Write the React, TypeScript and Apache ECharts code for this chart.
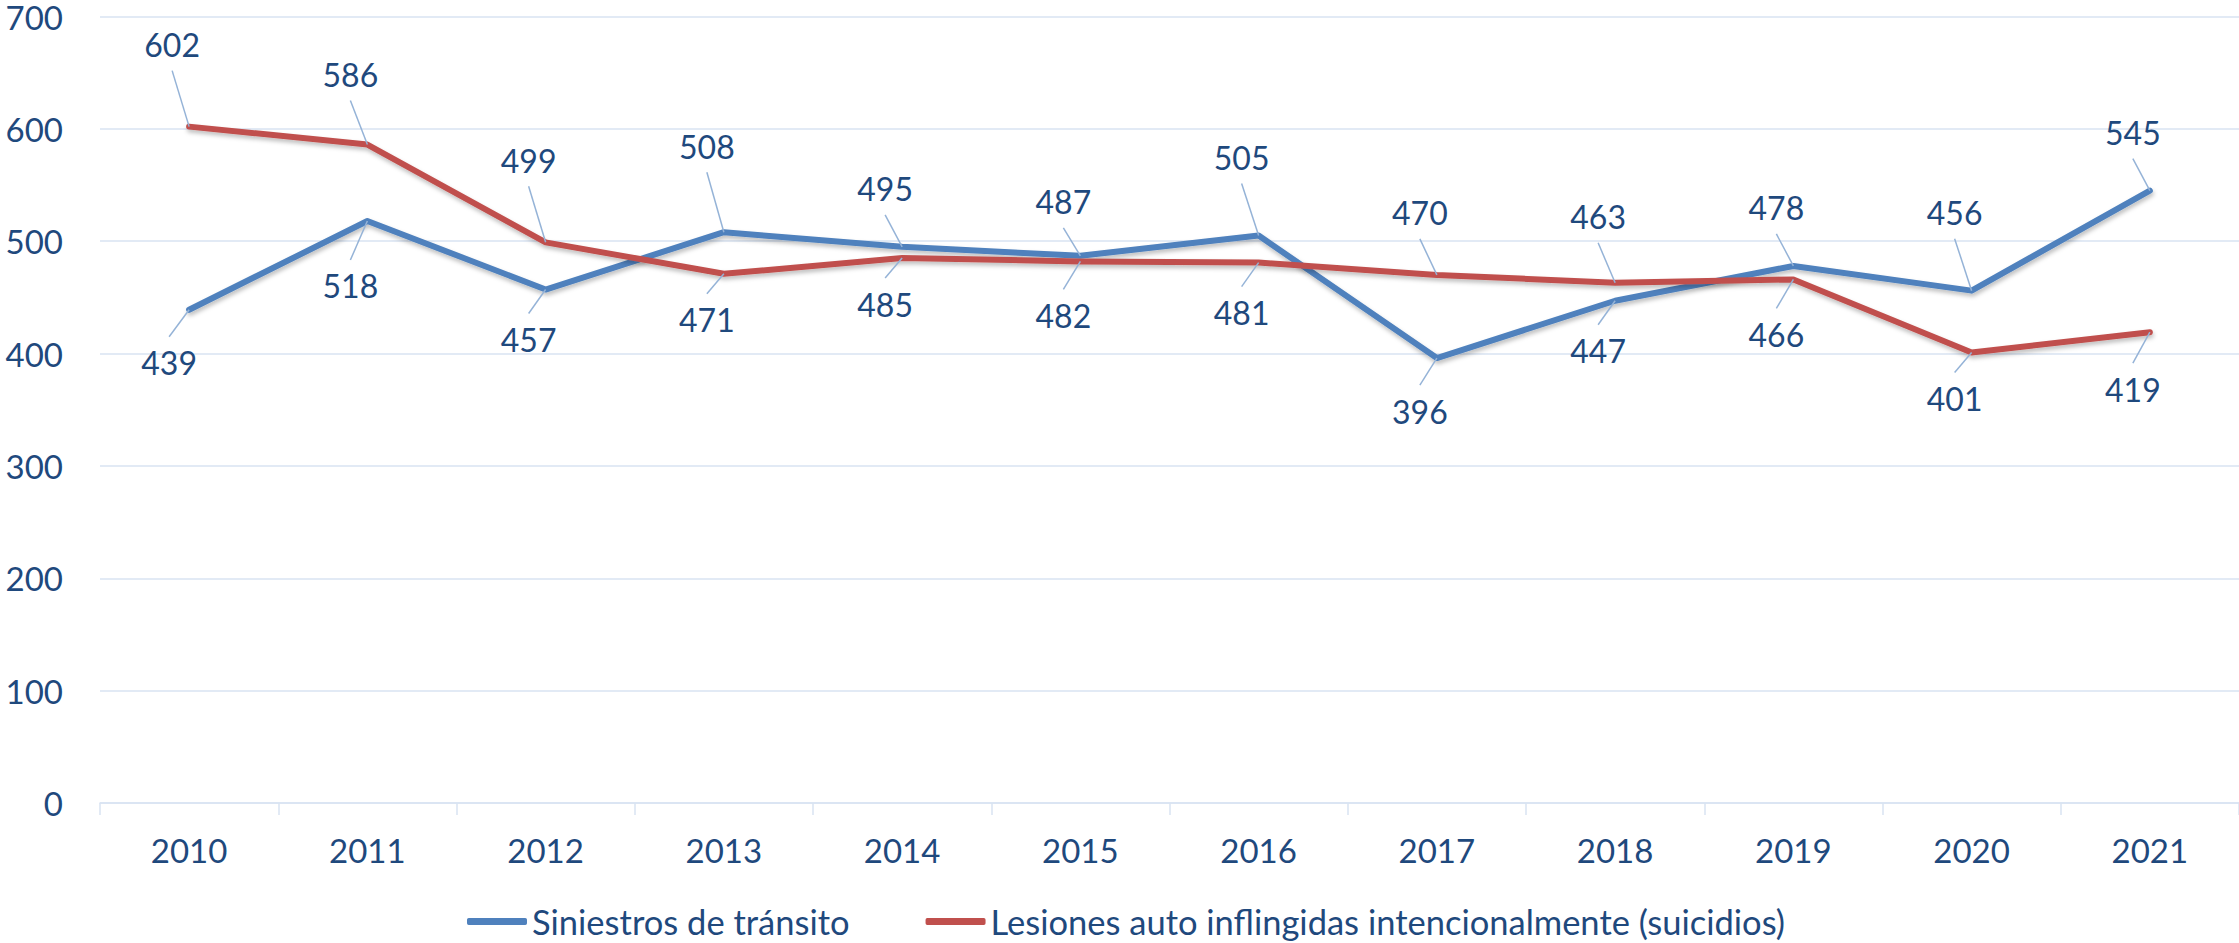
import React, { useEffect, useRef } from "react";
import * as echarts from "echarts";

const years = ["2010", "2011", "2012", "2013", "2014", "2015", "2016", "2017", "2018", "2019", "2020", "2021"];
const transito = [439, 518, 457, 508, 495, 487, 505, 396, 447, 478, 456, 545];
const suicidios = [602, 586, 499, 471, 485, 482, 481, 470, 463, 466, 401, 419];
const seriesNames = ["Siniestros de tránsito", "Lesiones auto inflingidas intencionalmente (suicidios)"];

// label placement (pixel offsets from the point), layout only
const transitoLabelDy = [53, 65, 50, -86, -58, -54, -78, 53, 50, -58, -78, -58];
const suicidiosLabelDy = [-82, -70, -82, 46, 46, 54, 50, -62, -66, 55, 46, 57];

const FONT = "Lato, 'Noto Sans', sans-serif";
const TEXT = "#1F497D";
const GRID = "#D9E3F2";
const LEADER = "#95B3D7";
const BLUE = "#4F81BD";
const RED = "#C0504D";

function labelSeries(values: number[], dys: number[], name: string) {
  return {
    type: "custom",
    name,
    z: 10,
    silent: true,
    data: values.map((v, i) => [i, v]),
    encode: { x: 0, y: 1 },
    renderItem: (params: any, api: any) => {
      const i = params.dataIndex;
      const v = api.value(1);
      const p = api.coord([api.value(0), v]);
      const dy = dys[i];
      const dx = i === 0 && name === "lbl0" ? -20 : -17;
      const endY = dy < 0 ? p[1] + dy + 26 : p[1] + dy - 26;
      return {
        type: "group",
        children: [
          {
            type: "line",
            shape: { x1: p[0], y1: p[1], x2: p[0] + dx, y2: endY },
            style: { stroke: LEADER, lineWidth: 1.5 },
          },
          {
            type: "text",
            x: p[0] + dx,
            y: p[1] + dy,
            style: {
              text: String(v),
              fill: TEXT,
              fontSize: 32,
              fontFamily: FONT,
              align: "center",
              verticalAlign: "middle",
            },
          },
        ],
      };
    },
  };
}

export default function App() {
  const ref = useRef<HTMLDivElement>(null);
  useEffect(() => {
    if (!ref.current) return;
    const chart = echarts.init(ref.current, undefined, { renderer: "svg" });
    const lineCommon = {
      type: "line",
      showSymbol: false,
      symbol: "none",
      lineStyle: {
        width: 6,
        cap: "round",
        join: "round",
        shadowBlur: 4,
        shadowOffsetY: 3,
        shadowOffsetX: 1,
        shadowColor: "rgba(0,0,0,0.25)",
      },
    };
    chart.setOption({
      animation: false,
      backgroundColor: "#ffffff",
      grid: { left: 100, right: 0, top: 16, bottom: 140, containLabel: false },
      legend: {
        left: 462,
        top: 899,
        icon: "roundRect",
        itemWidth: 60,
        itemHeight: 7,
        itemGap: 76,
        data: seriesNames,
        textStyle: { fontSize: 34.5, fontFamily: FONT, color: TEXT },
      },
      xAxis: {
        type: "category",
        data: years,
        boundaryGap: true,
        axisLine: { show: true, lineStyle: { color: GRID, width: 1.5 } },
        axisTick: { show: true, length: 12, lineStyle: { color: GRID, width: 1.5 } },
        axisLabel: { fontSize: 33, fontFamily: FONT, color: TEXT, margin: 30 },
      },
      yAxis: {
        type: "value",
        min: 0,
        max: 700,
        interval: 100,
        axisLine: { show: false },
        axisTick: { show: false },
        splitLine: { lineStyle: { color: GRID, width: 1.5 } },
        axisLabel: { fontSize: 33, lineHeight: 22, fontFamily: FONT, color: TEXT, margin: 37 },
      },
      series: [
        { ...lineCommon, name: seriesNames[0], data: transito, itemStyle: { color: BLUE }, lineStyle: { ...lineCommon.lineStyle, color: BLUE } },
        { ...lineCommon, name: seriesNames[1], data: suicidios, itemStyle: { color: RED }, lineStyle: { ...lineCommon.lineStyle, color: RED } },
        labelSeries(transito, transitoLabelDy, "lbl0"),
        labelSeries(suicidios, suicidiosLabelDy, "lbl1"),
      ],
    });
    return () => chart.dispose();
  }, []);
  return (
    <div
      ref={ref}
      style={{ position: "fixed", left: 0, top: 0, width: 2239, height: 943, background: "#fff" }}
    />
  );
}
